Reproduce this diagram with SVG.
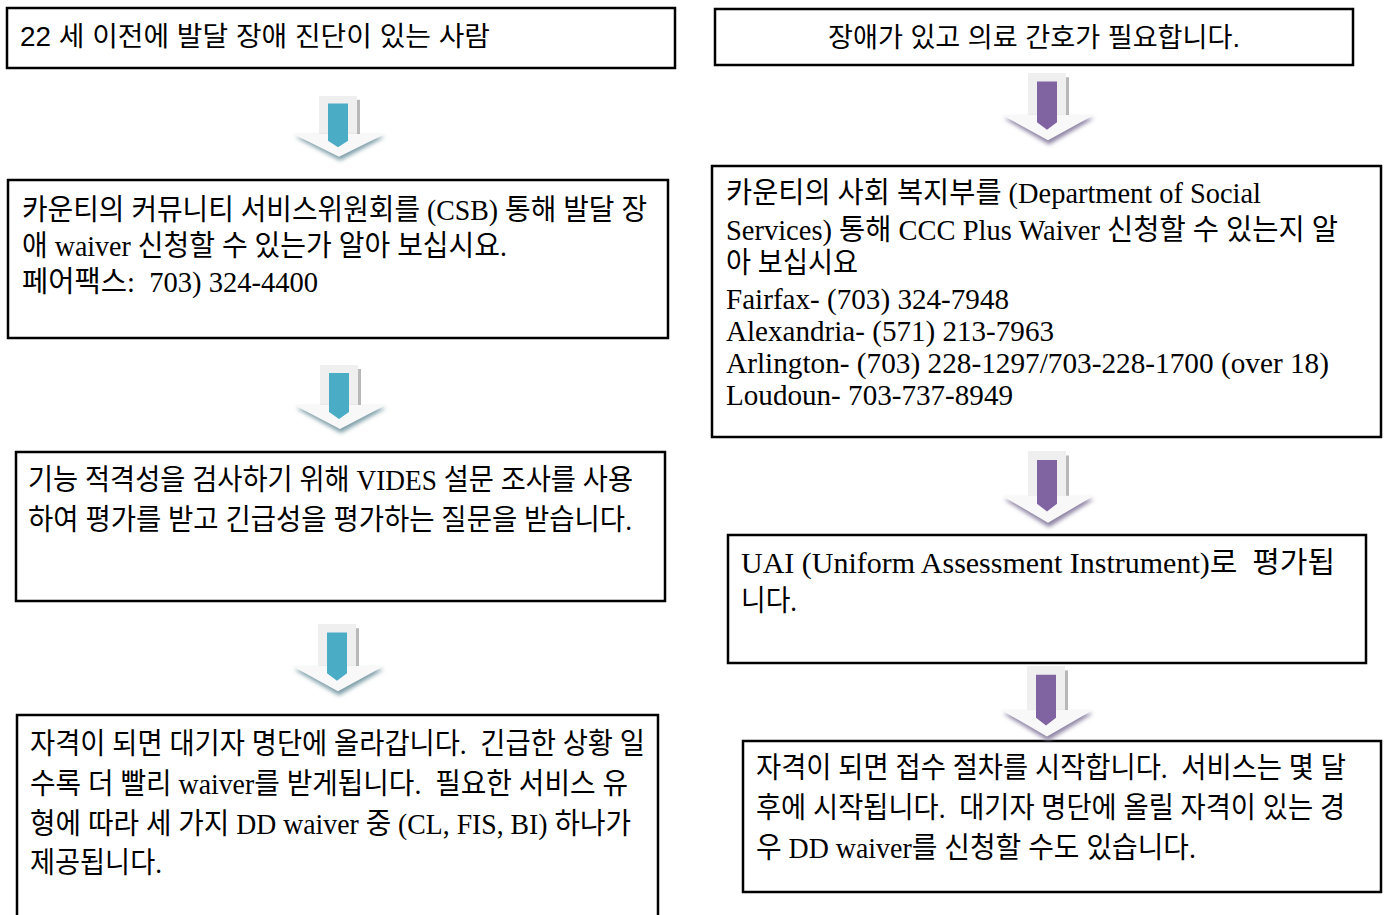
<svg xmlns="http://www.w3.org/2000/svg" xmlns:xlink="http://www.w3.org/1999/xlink" width="1385" height="915" viewBox="0 0 1385 915">
<style>
.box{fill:#fff;stroke:#000;stroke-width:2.5}
.sans{font-family:"Liberation Sans","Noto Sans CJK KR",sans-serif;font-size:27px;fill:#000;white-space:pre}
.ser{font-family:"Liberation Serif","Noto Sans CJK KR",serif;font-size:29px;fill:#000;white-space:pre}
.cond{font-family:"Liberation Serif","Noto Sans CJK KR",serif;font-size:29px;fill:#000;white-space:pre}
</style>
<defs>
<filter id="blur" x="-20%" y="-20%" width="140%" height="160%"><feGaussianBlur stdDeviation="2"/></filter>
<g id="arrow-base">
<rect x="18" y="4" width="3" height="42" fill="#b8b8b8"/>
<rect x="-20" y="0" width="38" height="44" fill="#efefef"/>
</g>
<g id="arrow-blue">
<use xlink:href="#arrow-base"/>
<polygon points="-44,43 46,43 1,68" fill="#7e9ea8" filter="url(#blur)"/>
<polygon points="-46,40 46,40 0,64" fill="#f8f8f8"/>
<polygon points="-11,8 9,8 9,47 -1,54 -11,47" fill="#4bacc6"/>
</g>
<g id="arrow-purple">
<use xlink:href="#arrow-base"/>
<polygon points="-44,43 46,43 1,68" fill="#8d83a3" filter="url(#blur)"/>
<polygon points="-46,40 46,40 0,64" fill="#f8f8f8"/>
<polygon points="-11,8 9,8 9,47 -1,54 -11,47" fill="#8064a2"/>
</g>
</defs>
<rect width="1385" height="915" fill="#fff"/>

<g id="node-L1">
<rect class="box" x="7" y="8" width="668" height="60"/>
<text class="sans" x="20" y="46" textLength="470" lengthAdjust="spacingAndGlyphs">22 세 이전에 발달 장애 진단이 있는 사람</text>
</g>
<g id="node-L2">
<rect class="box" x="8" y="180" width="660" height="158"/>
<text class="ser" x="22" y="220" textLength="625" lengthAdjust="spacingAndGlyphs">카운티의 커뮤니티 서비스위원회를 (CSB) 통해 발달 장</text>
<text class="ser" x="22" y="256" textLength="485" lengthAdjust="spacingAndGlyphs">애 waiver 신청할 수 있는가 알아 보십시요.</text>
<text class="ser" x="22" y="292" textLength="296" lengthAdjust="spacingAndGlyphs">페어팩스:  703) 324-4400</text>
</g>
<g id="node-L3">
<rect class="box" x="16" y="452" width="649" height="149"/>
<text class="cond" x="28" y="490" textLength="605" lengthAdjust="spacingAndGlyphs">기능 적격성을 검사하기 위해 VIDES 설문 조사를 사용</text>
<text class="cond" x="28" y="530" textLength="604" lengthAdjust="spacingAndGlyphs">하여 평가를 받고 긴급성을 평가하는 질문을 받습니다.</text>
</g>
<g id="node-L4">
<rect class="box" x="17" y="715" width="641" height="215"/>
<text class="cond" x="30" y="754" textLength="615" lengthAdjust="spacingAndGlyphs">자격이 되면 대기자 명단에 올라갑니다.  긴급한 상황 일</text>
<text class="cond" x="30" y="794" textLength="598" lengthAdjust="spacingAndGlyphs">수록 더 빨리 waiver를 받게됩니다.  필요한 서비스 유</text>
<text class="cond" x="30" y="834" textLength="601" lengthAdjust="spacingAndGlyphs">형에 따라 세 가지 DD waiver 중 (CL, FIS, BI) 하나가</text>
<text class="cond" x="30" y="873" textLength="132" lengthAdjust="spacingAndGlyphs">제공됩니다.</text>
</g>

<g id="node-R1">
<rect class="box" x="715" y="9" width="638" height="56"/>
<text class="sans" x="828" y="47" textLength="412" lengthAdjust="spacingAndGlyphs">장애가 있고 의료 간호가 필요합니다.</text>
</g>
<g id="node-R2">
<rect class="box" x="712" y="166" width="669" height="271"/>
<text class="ser" x="726" y="203" textLength="535" lengthAdjust="spacingAndGlyphs">카운티의 사회 복지부를 (Department of Social</text>
<text class="ser" x="726" y="240" textLength="612" lengthAdjust="spacingAndGlyphs">Services) 통해 CCC Plus Waiver 신청할 수 있는지 알</text>
<text class="ser" x="726" y="273" textLength="132" lengthAdjust="spacingAndGlyphs">아 보십시요</text>
<text class="ser" x="726" y="309" textLength="283" lengthAdjust="spacingAndGlyphs">Fairfax- (703) 324-7948</text>
<text class="ser" x="726" y="341" textLength="328" lengthAdjust="spacingAndGlyphs">Alexandria- (571) 213-7963</text>
<text class="ser" x="726" y="373" textLength="603" lengthAdjust="spacingAndGlyphs">Arlington- (703) 228-1297/703-228-1700 (over 18)</text>
<text class="ser" x="726" y="405" textLength="287" lengthAdjust="spacingAndGlyphs">Loudoun- 703-737-8949</text>
</g>
<g id="node-R3">
<rect class="box" x="728" y="535" width="638" height="128"/>
<text class="cond" x="741" y="573" textLength="594" lengthAdjust="spacingAndGlyphs">UAI (Uniform Assessment Instrument)로  평가됩</text>
<text class="cond" x="741" y="611" textLength="56" lengthAdjust="spacingAndGlyphs">니다.</text>
</g>
<g id="node-R4">
<rect class="box" x="743" y="741" width="638" height="151"/>
<text class="cond" x="756" y="778" textLength="590" lengthAdjust="spacingAndGlyphs">자격이 되면 접수 절차를 시작합니다.  서비스는 몇 달</text>
<text class="cond" x="756" y="818" textLength="589" lengthAdjust="spacingAndGlyphs">후에 시작됩니다.  대기자 명단에 올릴 자격이 있는 경</text>
<text class="cond" x="756" y="858" textLength="440" lengthAdjust="spacingAndGlyphs">우 DD waiver를 신청할 수도 있습니다.</text>
</g>

<g id="connectors">
<use xlink:href="#arrow-blue" transform="translate(339,96) scale(1,0.95)"/>
<use xlink:href="#arrow-blue" transform="translate(340,365)"/>
<use xlink:href="#arrow-blue" transform="translate(338,624) scale(1,1.05)"/>
<use xlink:href="#arrow-purple" transform="translate(1048,73) scale(1,1.05)"/>
<use xlink:href="#arrow-purple" transform="translate(1048,451) scale(1,1.12)"/>
<use xlink:href="#arrow-purple" transform="translate(1047,666) scale(1,1.1)"/>
</g>
</svg>
